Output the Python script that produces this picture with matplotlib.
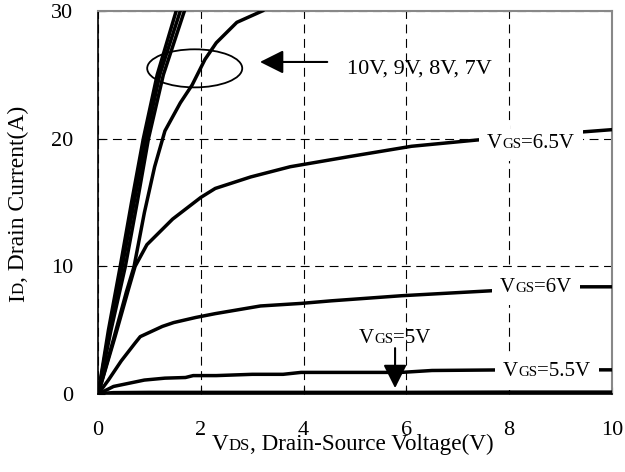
import matplotlib
matplotlib.use("Agg")
import matplotlib.pyplot as plt
from matplotlib.patches import Ellipse

plt.rcParams['font.family'] = ['Liberation Serif', 'DejaVu Serif']

# output characteristics, VDS (V) vs ID (A)
vds_10v = [0, 0.2, 0.43, 0.65, 0.88, 1.15, 1.52]
id_10v = [0, 5, 10, 15, 20, 25, 30]
vds_9v = [0, 0.22, 0.47, 0.7, 0.93, 1.2, 1.6]
id_9v = [0, 5, 10, 15, 20, 25, 30]
vds_8v = [0, 0.25, 0.53, 0.76, 0.98, 1.27, 1.68]
id_8v = [0, 5, 10, 15, 20, 25, 30]
vds_7v = [0, 0.3, 0.55, 0.7, 0.9, 1.1, 1.3, 1.6, 1.83, 2.08, 2.3, 2.7, 3.2]
id_7v = [0, 4.3, 8.0, 10, 14.2, 17.8, 20.6, 22.8, 24.2, 26.2, 27.5, 29.1, 30]
vds_65v = [0, 0.33, 0.59, 0.72, 0.95, 1.45, 2.0, 2.28, 2.97, 3.74, 4.9, 6.1, 7.4, 8.5, 9.35, 10]
id_65v = [0, 4.5, 8.2, 10.0, 11.7, 13.7, 15.4, 16.1, 17.0, 17.8, 18.6, 19.4, 19.9, 20.2, 20.5, 20.7]
vds_6v = [0, 0.2, 0.45, 0.72, 0.82, 1.25, 1.47, 1.9, 2.28, 3.16, 3.95, 4.53, 5.9, 7.7, 8.5, 9.35, 10]
id_6v = [0, 1.1, 2.6, 4.0, 4.5, 5.3, 5.6, 6.0, 6.3, 6.9, 7.1, 7.3, 7.7, 8.1, 8.3, 8.4, 8.4]
vds_55v = [0, 0.3, 0.9, 1.3, 1.7, 1.85, 2.3, 3.0, 3.6, 3.95, 5.9, 6.5, 8, 9.4, 10]
id_55v = [0, 0.6, 1.1, 1.25, 1.3, 1.45, 1.45, 1.55, 1.55, 1.7, 1.7, 1.85, 1.9, 1.9, 1.9]
vds_5v = [0, 0.3, 1, 2, 4, 6, 8, 10]
id_5v = [0, 0.08, 0.1, 0.1, 0.1, 0.1, 0.12, 0.12]

x_ticks = [0, 2, 4, 6, 8, 10]
y_ticks = [0, 10, 20, 30]


def chain(ax, x, y, parts, coords, rotation, color, zorder, bbox=None):
    prev = None
    for s, size in parts:
        kw = dict(ha='left', va='baseline', rotation=rotation, color=color,
                  rotation_mode='anchor', fontsize=size, zorder=zorder)
        if bbox:
            kw['bbox'] = bbox
        if prev is None:
            t = ax.annotate(s, xy=(x, y), xycoords=coords, **kw)
        elif rotation == 0:
            t = ax.annotate(s, xy=(1, y), xycoords=(prev, coords), **kw)
        else:
            t = ax.annotate(s, xy=(x, 1), xycoords=(coords, prev), **kw)
        prev = t


def rich(ax, x, y, parts, coords='data', rotation=0, box=False):
    # text pieces of different sizes on one baseline (small-caps subscripts)
    if box:
        # white knock-out boxes first, real text on top
        chain(ax, x, y, parts, coords, rotation, 'white', 5,
              bbox=dict(fc='white', ec='none', pad=6))
    chain(ax, x, y, parts, coords, rotation, 'black', 6)


fig = plt.figure(figsize=(6.25, 4.72), dpi=100)
ax = fig.add_axes([0.157, 0.165, 0.822, 0.812])

lw = 2.5
for xs, ys in [(vds_10v, id_10v), (vds_9v, id_9v), (vds_8v, id_8v),
               (vds_7v, id_7v), (vds_65v, id_65v), (vds_6v, id_6v),
               (vds_55v, id_55v)]:
    ax.plot(xs, ys, color='black', lw=lw, zorder=3)
ax.plot(vds_5v, id_5v, color='black', lw=3.2, zorder=3)

ax.set_xlim(0, 10)
ax.set_ylim(0, 30)
ax.set_xticks(x_ticks)
ax.set_yticks(y_ticks)
ax.tick_params(direction='in', length=5, labelsize=16, color='black')
ax.tick_params(axis='x', pad=19)
ax.tick_params(axis='y', pad=18)
ax.grid(True, color='black', lw=0.8, dashes=(8, 5), zorder=1)
ax.set_axisbelow(True)
for side in ['top', 'right']:
    ax.spines[side].set_color('#888888')
    ax.spines[side].set_linewidth(1.5)
for side in ['left', 'bottom']:
    ax.spines[side].set_color('black')
    ax.spines[side].set_linewidth(1.2)

# ellipse and arrow marking the 10V..7V curves
ax.add_patch(Ellipse((1.88, 25.5), 1.85, 2.98, fill=False, ec='black', lw=1.3, zorder=4))
arrow = dict(arrowstyle='-|>,head_length=0.4,head_width=0.2', mutation_scale=36,
             color='black', lw=1.5, shrinkA=0, shrinkB=0)
ax.annotate('', xy=(3.15, 26.0), xytext=(4.46, 26.0), arrowprops=arrow, zorder=5)
ax.text(4.84, 25.1, '10V, 9V, 8V, 7V', fontsize=16, ha='left', va='baseline')

# VGS curve labels
rich(ax, 7.57, 19.3, [('V', 15), ('GS', 10.8), ('=6.5V', 15)], box=True)
rich(ax, 7.82, 8.0, [('V', 15), ('GS', 10.8), ('=6V', 15)], box=True)
rich(ax, 7.88, 1.4, [('V', 15), ('GS', 10.8), ('=5.5V', 15)], box=True)
rich(ax, 5.08, 4.0, [('V', 15), ('GS', 10.8), ('=5V', 15)])
ax.annotate('', xy=(5.78, 0.47), xytext=(5.78, 3.6), arrowprops=arrow, zorder=5)

# axis titles
rich(ax, 212, 22, [('V', 16.7), ('DS', 12), (', Drain-Source Voltage(V)', 16.7)],
     coords='figure pixels')
rich(ax, 24, 170, [('I', 17), ('D', 12.2), (', Drain Current(A)', 17)],
     coords='figure pixels', rotation=90)

fig.savefig('out.png', dpi=100)
